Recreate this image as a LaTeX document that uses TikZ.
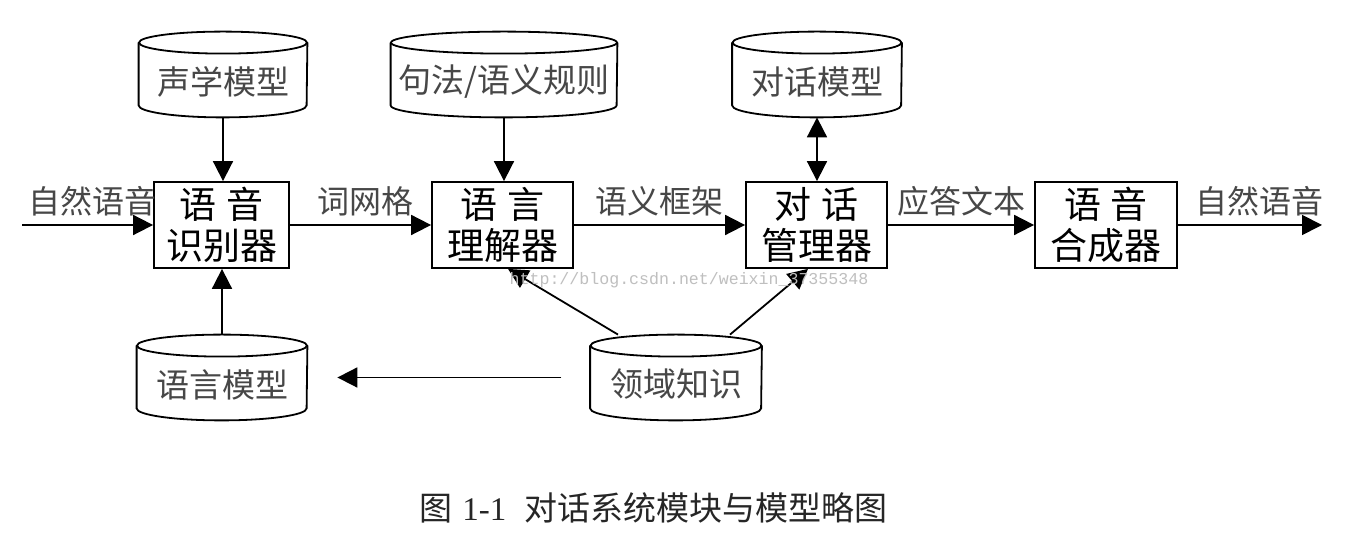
\documentclass[tikz,border=0pt]{standalone}
\usepackage{fontspec}
\setmainfont{Liberation Serif}
\newfontfamily\cjk{Noto Sans CJK SC}
\newfontfamily\wmfont{Liberation Mono}
\usetikzlibrary{arrows.meta}

\tikzset{
  line/.style={line width=0.9pt, draw=black},
  arr/.style={line, -{Triangle[length=10pt,width=10pt]}},
  biarr/.style={line, {Triangle[length=10pt,width=10pt]}-{Triangle[length=10pt,width=10pt]}},
  box/.style={draw, line width=0.9pt, inner sep=0pt, minimum height=43pt,
    font=\cjk\fontsize{18.5}{20.5}\selectfont, align=center, text=black},
  cylarea/.style={inner sep=0pt, minimum height=42.5pt},
  cyltext/.style={font=\cjk\fontsize{16.5}{18}\selectfont, text=black!72, inner sep=0pt},
  lbl/.style={font=\cjk\fontsize{16}{18}\selectfont, text=black!72, inner sep=0pt, above=4pt},
  wmark/.style={font=\wmfont\fontsize{8.3}{10}\selectfont, text=black!25, inner sep=0pt},
  capt/.style={font=\fontsize{16.5}{20}\selectfont, inner sep=0pt, anchor=west, text=black!85},
}

\newcommand\cylnode[5]{%
  \node[cylarea, minimum width=#4pt] (#1) at (#2,#3) {};
  \draw[line] ([yshift=-5.5pt]#1.north) ellipse[x radius=#4pt/2, y radius=5.5pt];
  \draw[line] ([yshift=-5.5pt]#1.north west) -- ([yshift=6pt]#1.south west)
    arc[start angle=180, end angle=360, x radius=#4pt/2, y radius=6pt]
    -- ([yshift=-5.5pt]#1.north east);
  \node[cyltext] (#1-t) at ([yshift=-3.5pt]#1.center) {#5};
}

\begin{document}
\begin{tikzpicture}[x=0.5pt,y=0.5pt]
  \useasboundingbox (0,0) rectangle (1360,540);
  \fill[white] (0,0) rectangle (1360,540);

  % top cylinders
  \cylnode{am}{223}{465.5}{84}{声学模型}
  \cylnode{rules}{504}{465.5}{113}{句法/语义规则}
  \cylnode{dmc}{817}{465.5}{84.5}{对话模型}
  % bottom cylinders
  \cylnode{lm}{222}{162.5}{85}{语言模型}
  \cylnode{dk}{676}{162.5}{85.5}{领域知识}

  % boxes
  \node[box, minimum width=67.5pt] (asr) at (221.5,315) {语\hspace{0.25em}音\\识别器};
  \node[box, minimum width=70.5pt] (nlu) at (502.5,315) {语\hspace{0.25em}言\\理解器};
  \node[box, minimum width=70.5pt] (dmb) at (816.5,315) {对\hspace{0.25em}话\\管理器};
  \node[box, minimum width=71pt]   (tts) at (1106,315) {语\hspace{0.25em}音\\合成器};

  \coordinate (in) at (22,315);
  \coordinate (out) at (1322,315);

  % main chain
  \draw[arr] (in) -- node[lbl, xshift=2.5pt] (l1) {自然语音} (asr.west);
  \draw[arr] (asr) -- node[lbl, xshift=2.5pt] (l2) {词网格} (nlu);
  \draw[arr] (nlu) -- node[lbl] (l3) {语义框架} (dmb);
  \draw[arr] (dmb) -- node[lbl] (l4) {应答文本} (tts);
  \draw[arr] (tts) -- node[lbl, xshift=5pt] (l5) {自然语音} (out);

  % model links
  \draw[arr] (am.south) -- (am.south |- asr.north);
  \draw[arr] (rules.south) -- (rules.south |- nlu.north);
  \draw[biarr] (dmc.south) -- (dmc.south |- dmb.north);
  \draw[arr] (lm.north) -- (lm.north |- asr.south);
  \draw[arr] ([xshift=-29pt]dk.north) -- ([xshift=2.75pt]nlu.south);
  \draw[arr] ([xshift=27pt]dk.north) -- ([xshift=-4.25pt]dmb.south);
  \draw[arr] ([xshift=-14.4pt]dk.west) -- ([xshift=15pt]lm.east);

  % watermark
  \node[wmark] (wm) at (689,259.3) {http://blog.csdn.net/weixin\_37355348};

  % caption
  \node[capt] (cap) at (419,32) {{\cjk 图}\hspace{5pt}1-1\hspace{9pt}{\cjk 对话系统模块与模型略图}};
\end{tikzpicture}
\end{document}
